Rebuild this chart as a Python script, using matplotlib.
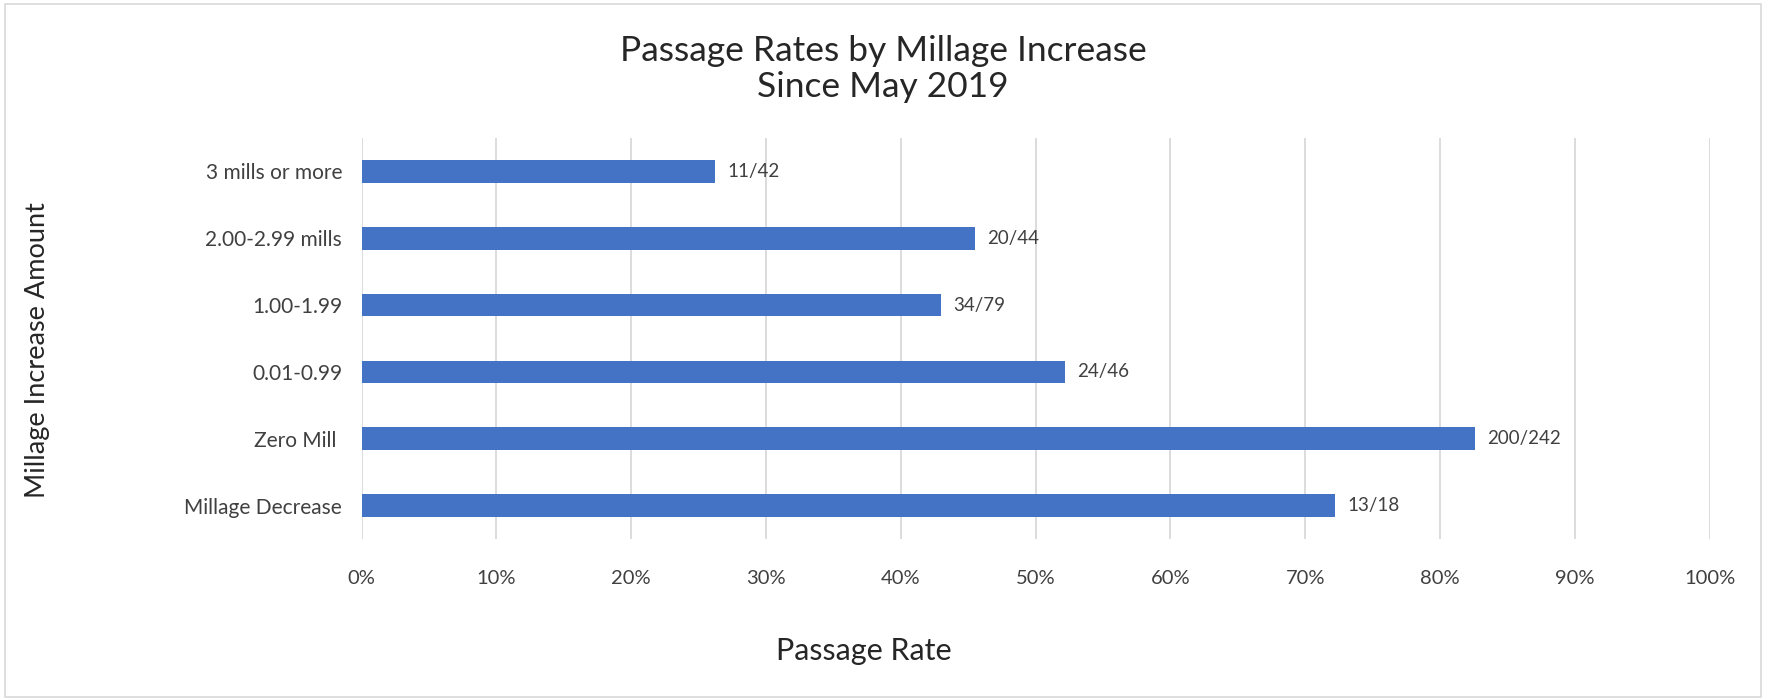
import matplotlib.pyplot as plt
from matplotlib.patches import Rectangle
from matplotlib.ticker import PercentFormatter

# data (bottom to top)
categories = ["Millage Decrease", "Zero Mill ", "0.01-0.99", "1.00-1.99", "2.00-2.99 mills", "3 mills or more"]
passage_rate = [0.722, 0.826, 0.522, 0.430, 0.455, 0.262]
bar_labels = ["13/18", "200/242", "24/46", "34/79", "20/44", "11/42"]
x_ticks = [0, 0.1, 0.2, 0.3, 0.4, 0.5, 0.6, 0.7, 0.8, 0.9, 1.0]

plt.rcParams['font.family'] = ['Lato', 'DejaVu Sans']
text_col = "#404040"
bar_col = "#4472C4"

fig = plt.figure(figsize=(17.66, 7.0), dpi=100)
ax = fig.add_axes([0.2048, 0.23, 0.7633, 0.573])

y = range(len(categories))
ax.barh(y, passage_rate, height=0.34, color=bar_col, zorder=3)
for yi, v, lab in zip(y, passage_rate, bar_labels):
    ax.text(v + 0.009, yi, lab, va="center", ha="left", fontsize=13.5, color=text_col)

ax.set_xlim(0, 1.0)
ax.set_ylim(-0.5, len(categories) - 0.5)
ax.set_xticks(x_ticks)
ax.xaxis.set_major_formatter(PercentFormatter(1.0, decimals=0))
ax.set_yticks(list(y))
ax.set_yticklabels(categories)
ax.tick_params(axis="both", length=0, colors=text_col)
ax.tick_params(axis="y", pad=14, labelsize=15)
ax.tick_params(axis="x", pad=22, labelsize=14.5)
ax.grid(axis="x", color="#D9D9D9", linewidth=1.3, zorder=0)
for s in ax.spines.values():
    s.set_visible(False)

fig.text(0.5, 0.902, "Passage Rates by Millage Increase\nSince May 2019", ha="center", va="center",
         fontsize=25.5, color="#262626", linespacing=1.15)
fig.text(0.489, 0.07, "Passage Rate", ha="center", va="center", fontsize=22, color="#262626")
fig.text(0.021, 0.5, "Millage Increase Amount", ha="center", va="center", rotation=90,
         fontsize=19.5, color="#262626")

# thin light frame around the chart area
fig.patches.append(Rectangle((0.003, 0.004), 0.994, 0.99, transform=fig.transFigure,
                             fill=False, edgecolor="#D9D9D9", linewidth=1.2))

fig.savefig("out.png", dpi=100, facecolor="white")
